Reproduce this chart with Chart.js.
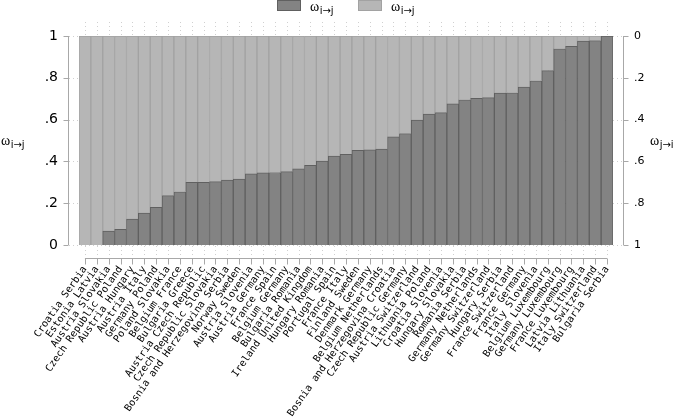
<!DOCTYPE html>
<html>
<head>
<meta charset="utf-8">
<script src="https://cdn.jsdelivr.net/npm/chart.js@4"></script>
<style>
  html, body { margin: 0; padding: 0; background: #fff; }
  #wrap { width: 685px; height: 419px; }
</style>
</head>
<body>
<div id="wrap"><canvas id="chart" width="685" height="419"></canvas></div>
<script>
// country pairs, sorted by share i -> j
const pairs = [
  'Croatia Serbia', 'Estonia Latvia', 'Austria Slovakia', 'Czech Republic Poland',
  'Austria Hungary', 'Austria Italy', 'Germany Poland', 'Poland Slovakia',
  'Belgium France', 'Bulgaria Greece', 'Austria Czech Republic', 'Czech Republic Slovakia',
  'Bosnia and Herzegovina Serbia', 'Norway Sweden', 'Austria Slovenia', 'Austria Germany',
  'France Spain', 'Belgium Germany', 'Bulgaria Romania', 'Ireland United Kingdom',
  'Hungary Romania', 'Portugal Spain', 'France Italy', 'Finland Sweden',
  'Denmark Germany', 'Belgium Netherlands', 'Bosnia and Herzegovina Croatia', 'Czech Republic Germany',
  'Austria Switzerland', 'Lithuania Poland', 'Croatia Slovenia', 'Hungary Slovakia',
  'Romania Serbia', 'Germany Netherlands', 'Germany Switzerland', 'Hungary Serbia',
  'France Switzerland', 'France Germany', 'Italy Slovenia', 'Belgium Luxembourg',
  'Germany Luxembourg', 'France Luxembourg', 'Latvia Lithuania', 'Italy Switzerland',
  'Bulgaria Serbia'
];

// omega i->j (dark, bottom)
const omegaIJ = [
  0, 0, 0.067, 0.075, 0.124, 0.153, 0.18, 0.236, 0.255, 0.30,
  0.30, 0.303, 0.311, 0.316, 0.34, 0.345, 0.347, 0.351, 0.364, 0.381,
  0.402, 0.426, 0.434, 0.453, 0.455, 0.459, 0.517, 0.533, 0.598, 0.627,
  0.633, 0.675, 0.695, 0.702, 0.705, 0.727, 0.728, 0.756, 0.786, 0.834,
  0.939, 0.95, 0.976, 0.978, 1
];

// omega j->i (light, top) is the rest of the bar
const omegaJI = omegaIJ.map(v => Number((1 - v).toFixed(3)));

const seriesNames = ['ωi→j', 'ωi→j'];
const axisTitles = ['ωi→j', 'ωj→i'];
const yTicks = [0, 0.2, 0.4, 0.6, 0.8, 1];

const DARK = '#838383', DARK_EDGE = '#606060';
const LIGHT = '#b6b6b6', LIGHT_EDGE = '#a2a2a2';
const AXIS = '#a8a8a8';

function fmtTick(v) {
  const n = Number(v.toFixed(1));
  if (n === 0) return '0';
  if (n === 1) return '1';
  return String(n).replace(/^0/, '');
}

// omega with a subscript, drawn on canvas
function drawOmega(ctx, text, x, y) {
  const main = text[0], sub = text.slice(1);
  ctx.fillStyle = '#000';
  ctx.textAlign = 'left';
  ctx.textBaseline = 'alphabetic';
  ctx.font = '14px "Liberation Serif"';
  const w1 = ctx.measureText(main).width;
  ctx.fillText(main, x, y);
  ctx.font = '10px "DejaVu Sans"';
  ctx.fillText(sub, x + w1 + 0.5, y + 3);
}

const frame = {
  id: 'frame',
  beforeDatasetsDraw(chart) {
    const { ctx, chartArea: a, scales } = chart;
    ctx.save();
    ctx.strokeStyle = '#d0d0d0';
    ctx.lineWidth = 1;
    ctx.setLineDash([1, 3]);
    // faint grid, mostly hidden behind the bars
    yTicks.forEach(t => {
      const y = Math.round(scales.y.getPixelForValue(t)) + 0.5;
      ctx.beginPath();
      ctx.moveTo(a.left - 10, y);
      ctx.lineTo(a.right + 10, y);
      ctx.stroke();
    });
    pairs.forEach((p, i) => {
      const x = Math.round(scales.x.getPixelForValue(i)) + 0.5;
      ctx.beginPath();
      ctx.moveTo(x, a.top - 14);
      ctx.lineTo(x, a.bottom + 12);
      ctx.stroke();
    });
    ctx.restore();
  },
  afterDraw(chart) {
    const { ctx, chartArea: a, scales } = chart;
    const yTop = scales.y.getPixelForValue(1);
    const yBot = scales.y.getPixelForValue(0);
    ctx.save();
    ctx.strokeStyle = AXIS;
    ctx.lineWidth = 1;

    // left axis
    const lx = Math.round(a.left) - 10.5;
    ctx.beginPath();
    ctx.moveTo(lx, yTop);
    ctx.lineTo(lx, yBot);
    yTicks.forEach(t => {
      const y = Math.round(scales.y.getPixelForValue(t)) + 0.5;
      ctx.moveTo(lx, y);
      ctx.lineTo(lx - 5, y);
    });
    ctx.stroke();

    // right axis
    const rx = Math.round(a.right) + 10.5;
    ctx.beginPath();
    ctx.moveTo(rx, yTop);
    ctx.lineTo(rx, yBot);
    yTicks.forEach(t => {
      const y = Math.round(scales.y2.getPixelForValue(t)) + 0.5;
      ctx.moveTo(rx, y);
      ctx.lineTo(rx + 5, y);
    });
    ctx.stroke();

    // bottom axis
    const by = Math.round(a.bottom) + 13.5;
    const x0 = scales.x.getPixelForValue(0);
    const x1 = scales.x.getPixelForValue(pairs.length - 1);
    ctx.beginPath();
    ctx.moveTo(x0, by);
    ctx.lineTo(x1, by);
    pairs.forEach((p, i) => {
      const x = Math.round(scales.x.getPixelForValue(i)) + 0.5;
      ctx.moveTo(x, by);
      ctx.lineTo(x, by + 6);
    });
    ctx.stroke();

    // axis titles
    const midY = (yTop + yBot) / 2 + 4;
    drawOmega(ctx, axisTitles[0], 1, midY);
    drawOmega(ctx, axisTitles[1], 650, midY);

    // legend
    const items = [
      { x: 277, fill: DARK, edge: DARK_EDGE, text: seriesNames[0] },
      { x: 358, fill: LIGHT, edge: LIGHT_EDGE, text: seriesNames[1] }
    ];
    items.forEach(it => {
      ctx.fillStyle = it.fill;
      ctx.fillRect(it.x, 0, 24, 11);
      ctx.strokeStyle = it.edge;
      ctx.strokeRect(it.x + 0.5, 0.5, 23, 10);
      drawOmega(ctx, it.text, it.x + 33, 11);
    });
    ctx.restore();
  }
};

new Chart(document.getElementById('chart'), {
  type: 'bar',
  data: {
    labels: pairs,
    datasets: [
      {
        label: seriesNames[0],
        data: omegaIJ,
        backgroundColor: DARK,
        borderColor: DARK_EDGE,
        borderWidth: 1,
        categoryPercentage: 1,
        barPercentage: 1,
      },
      {
        label: seriesNames[1],
        data: omegaJI,
        backgroundColor: LIGHT,
        borderColor: LIGHT_EDGE,
        borderWidth: 1,
        categoryPercentage: 1,
        barPercentage: 1,
      },
    ],
  },
  options: {
    responsive: false,
    animation: false,
    layout: { padding: { top: 36, bottom: 0, left: 0, right: 0 } },
    plugins: {
      legend: { display: false },
      tooltip: { enabled: false },
    },
    scales: {
      x: {
        stacked: true,
        grid: { display: false, drawTicks: false },
        border: { display: false },
        ticks: {
          autoSkip: false,
          maxRotation: 55,
          minRotation: 55,
          padding: 19,
          color: '#000',
          font: { family: '"DejaVu Sans Mono"', size: 10 },
        },
        afterFit(scale) { scale.height = 174; },
      },
      y: {
        stacked: true,
        min: 0,
        max: 1,
        position: 'left',
        grid: { display: false, drawTicks: false },
        border: { display: false },
        ticks: {
          stepSize: 0.2,
          padding: 21,
          color: '#000',
          font: { family: '"DejaVu Sans"', size: 14 },
          callback: v => fmtTick(v),
        },
        afterFit(scale) { scale.width = 79; },
      },
      y2: {
        min: 0,
        max: 1,
        reverse: true,
        position: 'right',
        grid: { display: false, drawTicks: false },
        border: { display: false },
        ticks: {
          stepSize: 0.2,
          padding: 21,
          color: '#000',
          font: { family: '"DejaVu Sans"', size: 11 },
          callback: v => fmtTick(v),
        },
        afterFit(scale) { scale.width = 72; },
      },
    },
  },
  plugins: [frame],
});
</script>
</body>
</html>
